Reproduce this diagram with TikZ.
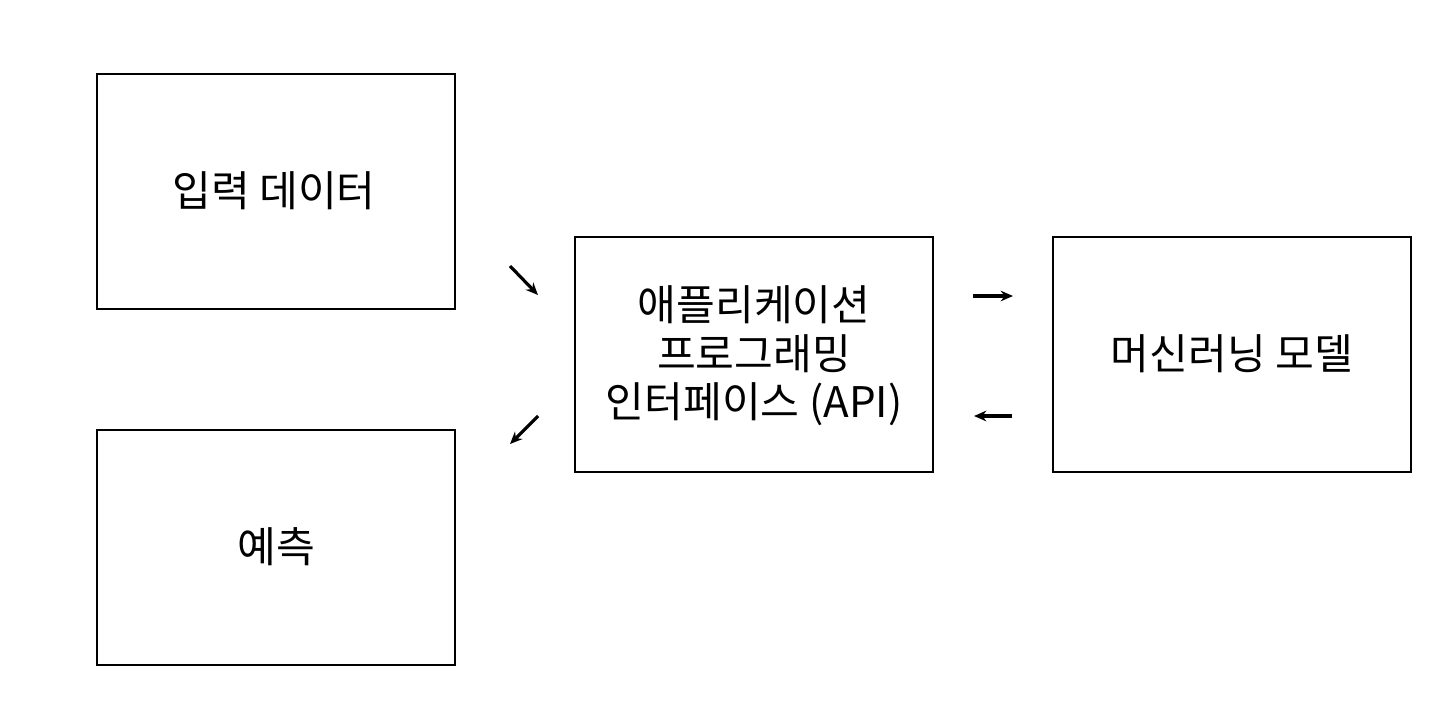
\documentclass[tikz,border=0pt]{standalone}
\usepackage{fontspec}
\setmainfont{Noto Sans CJK KR}
\usetikzlibrary{arrows.meta}
\begin{document}
\begin{tikzpicture}[x=0.02cm,y=-0.02cm,
 box/.style={draw,line width=1.3pt,inner sep=0pt},
 lbl/.style={font=\fontsize{24}{27.5}\selectfont,align=center},
 arr/.style={line width=1.8pt,-{Stealth[length=7pt,width=6pt]}}]
\useasboundingbox (0,0) rectangle (1456,720);
\draw[box] (97,74) rectangle (455,309);
\node[lbl] (in) at (274,191) {입력 데이터};
\draw[box] (97,430) rectangle (455,665);
\node[lbl] (pr) at (276,547) {예측};
\draw[box] (575,237) rectangle (933,472);
\node[lbl] (api) at (754,356) {애플리케이션\\프로그래밍\\인터페이스 (API)};
\draw[box] (1053,237) rectangle (1411,472);
\node[lbl] (ml) at (1232,354) {머신러닝 모델};
\coordinate (a1) at (510,266); \coordinate (a2) at (538,295);
\coordinate (b1) at (538,416); \coordinate (b2) at (510,444);
\coordinate (c1) at (973,296); \coordinate (c2) at (1013,296);
\coordinate (d1) at (1012,416); \coordinate (d2) at (974,416);
\draw[arr] (a1) -- (a2);
\draw[arr] (b1) -- (b2);
\draw[arr] (c1) -- (c2);
\draw[arr] (d1) -- (d2);
\end{tikzpicture}
\end{document}
